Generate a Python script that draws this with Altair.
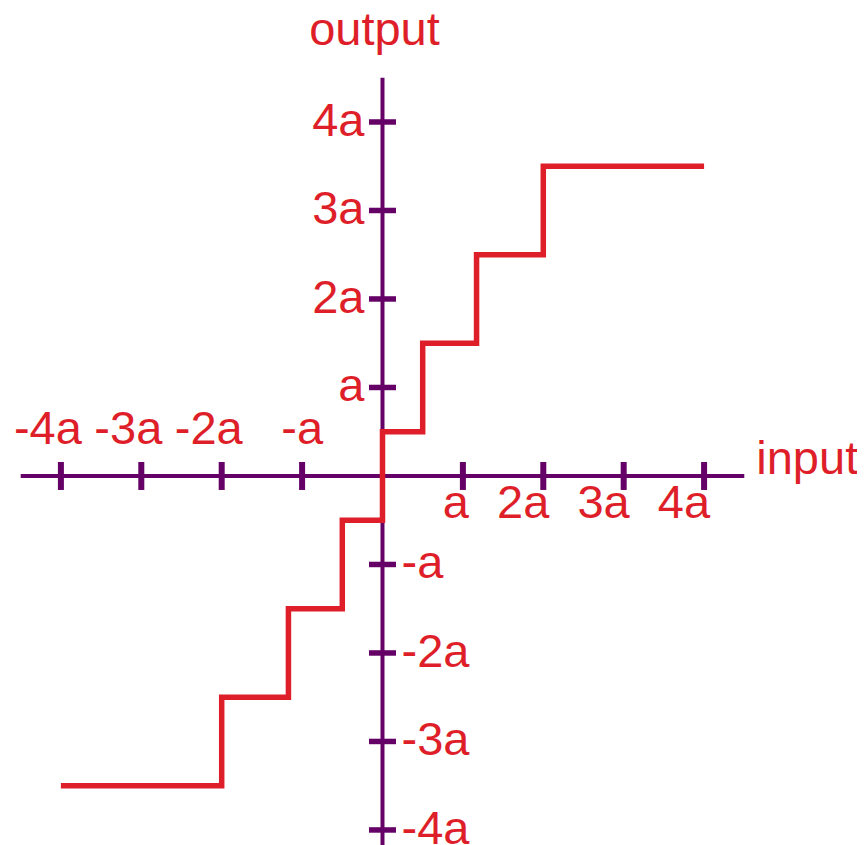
import altair as alt
import pandas as pd

# ---- data ----
step_x = [-4, -2, -1.17, -0.5, 0, 0.5, 1.17, 2, 4]
step_y = [-3.5, -2.5, -1.5, -0.5, 0.5, 1.5, 2.5, 3.5, 3.5]
x_ticks = [-4, -3, -2, -1, 1, 2, 3, 4]
x_labels = ["-4a", "-3a", "-2a", "-a", "a", "2a", "3a", "4a"]
y_ticks = [4, 3, 2, 1, -1, -2, -3, -4]
y_labels = ["4a", "3a", "2a", "a", "-a", "-2a", "-3a", "-4a"]
axis_end = 4.5
x_title = "input"
y_title = "output"

# ---- styling ----
RED = "#de1f2a"
PURPLE = "#650066"
FONT = "Liberation Sans"
FS = 47

W, H = 849, 837
x_dom = [-4.658, 5.902]
y_dom = [-4.170, 5.288]

xs = alt.Scale(domain=x_dom, nice=False, zero=False)
ys = alt.Scale(domain=y_dom, nice=False, zero=False)

step_df = pd.DataFrame({"x": step_x, "y": step_y})
xt = pd.DataFrame({"v": x_ticks, "label": x_labels, "zero": [0] * len(x_ticks)})
yt = pd.DataFrame({"v": y_ticks, "label": y_labels, "zero": [0] * len(y_ticks)})
axes_df = pd.DataFrame({
    "x": [-axis_end, 0], "x2": [axis_end, 0],
    "y": [0, -axis_end], "y2": [0, axis_end],
})
titles_df = pd.DataFrame({"x": [axis_end], "y": [axis_end], "xt": [x_title], "yt": [y_title], "zero": [0]})

X = lambda f: alt.X(f, type="quantitative", scale=xs, axis=None)
Y = lambda f: alt.Y(f, type="quantitative", scale=ys, axis=None)

axes = alt.Chart(axes_df).mark_rule(color=PURPLE, strokeWidth=4).encode(
    x=X("x"), x2="x2", y=Y("y"), y2="y2"
)

xticks = alt.Chart(xt).mark_tick(orient="vertical", size=28, thickness=6, color=PURPLE, opacity=1).encode(
    x=X("v"), y=Y("zero")
)
yticks = alt.Chart(yt).mark_tick(orient="horizontal", size=27, thickness=5.5, color=PURPLE, opacity=1).encode(
    x=X("zero"), y=Y("v")
)

txt = dict(font=FONT, fontSize=FS, color=RED)

xlab_neg = alt.Chart(xt).transform_filter("datum.v < 0").mark_text(
    align="right", baseline="alphabetic", dx=21, dy=-32, **txt
).encode(x=X("v"), y=Y("zero"), text="label")
xlab_pos = alt.Chart(xt).transform_filter("datum.v > 0").mark_text(
    align="right", baseline="alphabetic", dx=6, dy=42, **txt
).encode(x=X("v"), y=Y("zero"), text="label")
ylab_pos = alt.Chart(yt).transform_filter("datum.v > 0").mark_text(
    align="right", baseline="middle", dx=-18, dy=0, **txt
).encode(x=X("zero"), y=Y("v"), text="label")
ylab_neg = alt.Chart(yt).transform_filter("datum.v < 0").mark_text(
    align="left", baseline="middle", dx=19, dy=0, **txt
).encode(x=X("zero"), y=Y("v"), text="label")

xtitle = alt.Chart(titles_df).mark_text(
    align="left", baseline="alphabetic", dx=12, dy=-2, **txt
).encode(x=X("x"), y=Y("zero"), text="xt")
ytitle = alt.Chart(titles_df).mark_text(
    align="center", baseline="alphabetic", dx=-8, dy=-33, **txt
).encode(x=X("zero"), y=Y("y"), text="yt")

step = alt.Chart(step_df).mark_line(
    interpolate="step-after", color=RED, strokeWidth=5.5, strokeJoin="miter", strokeCap="butt"
).encode(x=X("x"), y=Y("y"))

chart = alt.layer(
    axes, xticks, yticks, xlab_neg, xlab_pos, ylab_pos, ylab_neg, xtitle, ytitle, step
).properties(
    width=W, height=H, autosize=alt.AutoSizeParams(type="none"), padding=0
).configure_view(stroke=None)

chart.save("out.html", embed_options={"renderer": "svg", "actions": False})
